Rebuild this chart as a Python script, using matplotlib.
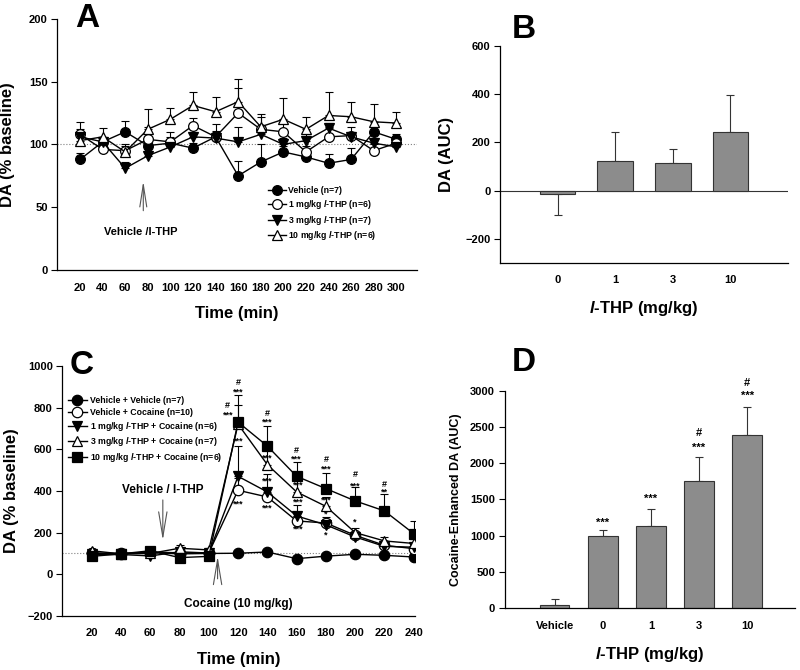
import numpy as np
import matplotlib
matplotlib.use("Agg")
import matplotlib.pyplot as plt
from matplotlib.lines import Line2D

plt.rcParams['font.family'] = ['Liberation Sans', 'DejaVu Sans']
plt.rcParams['font.weight'] = 'bold'
plt.rcParams['axes.labelweight'] = 'bold'
plt.rcParams['mathtext.fontset'] = 'custom'
plt.rcParams['mathtext.it'] = 'Liberation Sans:italic:bold'
plt.rcParams['mathtext.rm'] = 'Liberation Sans:bold'
plt.rcParams['mathtext.bf'] = 'Liberation Sans:bold'
plt.rcParams['axes.linewidth'] = 0.9

# ---- panel A data
time_a = [20, 40, 60, 80, 100, 120, 140, 160, 180, 200, 220, 240, 260, 280, 300]
veh_a = [88, 102, 110, 99, 101, 97, 106, 75, 86, 94, 90, 85, 88, 110, 104]
thp1_a = [108, 96, 95, 104, 102, 115, 106, 125, 112, 110, 94, 106, 107, 95, 101]
thp3_a = [106, 102, 81, 91, 98, 106, 105, 102, 108, 100, 103, 113, 106, 101, 98]
thp10_a = [103, 106, 94, 112, 120, 131, 126, 134, 114, 120, 112, 123, 122, 118, 117]
veh_a_err = [5, 4, 9, 4, 5, 4, 5, 12, 14, 5, 4, 7, 9, 5, 4]
thp1_a_err = [4, 5, 5, 10, 8, 6, 10, 20, 10, 7, 5, 8, 7, 5, 5]
thp3_a_err = [4, 3, 5, 5, 4, 6, 5, 12, 4, 5, 5, 4, 4, 4, 4]
thp10_a_err = [15, 7, 5, 16, 9, 11, 12, 18, 10, 17, 10, 19, 12, 14, 9]
labels_a = ["Vehicle (n=7)", r"1 mg/kg $\mathit{l}$-THP (n=6)",
            r"3 mg/kg $\mathit{l}$-THP (n=7)", r"10 mg/kg $\mathit{l}$-THP (n=6)"]

# ---- panel B data
doses_b = ["0", "1", "3", "10"]
auc_b = [-15, 121, 114, 244]
auc_b_err = [88, 120, 58, 150]

# ---- panel C data
time_c = [20, 40, 60, 80, 100, 120, 140, 160, 180, 200, 220, 240]
vehveh_c = [100, 101, 104, 98, 100, 101, 107, 75, 87, 96, 91, 83]
vehcoc_c = [103, 98, 107, 103, 103, 403, 371, 256, 246, 187, 139, 123]
thp1_c = [95, 95, 88, 108, 102, 470, 395, 280, 237, 179, 134, 130]
thp3_c = [113, 98, 100, 125, 117, 720, 526, 395, 326, 200, 160, 148]
thp10_c = [86, 98, 113, 80, 86, 730, 615, 470, 411, 352, 304, 195]
vehveh_c_err = [8, 8, 8, 8, 8, 8, 8, 8, 8, 8, 8, 8]
vehcoc_c_err = [10, 10, 10, 10, 10, 60, 40, 25, 30, 15, 15, 15]
thp1_c_err = [10, 10, 10, 10, 10, 144, 88, 51, 30, 15, 15, 15]
thp3_c_err = [10, 10, 10, 15, 10, 90, 70, 55, 45, 24, 20, 20]
thp10_c_err = [10, 10, 10, 10, 10, 128, 96, 69, 75, 67, 83, 61]
labels_c = ["Vehicle + Vehicle (n=7)", "Vehicle + Cocaine (n=10)",
            r"1 mg/kg $\mathit{l}$-THP + Cocaine (n=6)",
            r"3 mg/kg $\mathit{l}$-THP + Cocaine (n=7)",
            r"10 mg/kg $\mathit{l}$-THP + Cocaine (n=6)"]
# significance marks (time, value, text)
marks_c = [(120, 922, "#"), (120, 872, "***"), (113, 812, "#"), (113, 765, "***"),
           (120, 638, "***"), (120, 339, "***"),
           (140, 772, "#"), (140, 728, "***"), (140, 558, "***"), (140, 447, "***"), (140, 320, "***"),
           (160, 596, "#"), (160, 552, "***"), (161, 427, "***"), (161, 347, "***"), (161, 216, "***"),
           (180, 552, "#"), (180, 505, "***"), (180, 358, "***"), (180, 288, "*"), (180, 190, "*"),
           (200, 480, "#"), (200, 425, "***"), (200, 251, "*"),
           (220, 433, "#"), (220, 393, "**")]

# ---- panel D data
doses_d = ["Vehicle", "0", "1", "3", "10"]
auc_d = [41, 992, 1130, 1750, 2384]
auc_d_err = [83, 83, 244, 331, 391]
marks_d = [(1, 1185, "***"), (2, 1511, "***"), (3, 2214, "***"), (3, 2412, "#"),
           (4, 2931, "***"), (4, 3101, "#")]

fig = plt.figure(figsize=(8, 6.7), dpi=100)
axA = fig.add_axes([0.0718, 0.597, 0.449, 0.375])
axB = fig.add_axes([0.625, 0.6075, 0.36, 0.3245])
axC = fig.add_axes([0.078, 0.0806, 0.441, 0.3734])
axD = fig.add_axes([0.631, 0.092, 0.363, 0.325])

for ax in [axA, axB, axC, axD]:
    ax.spines['top'].set_visible(False)
    ax.spines['right'].set_visible(False)
    ax.tick_params(axis='y', direction='out', length=4, width=0.8, labelsize=8, pad=3)
    ax.tick_params(axis='x', length=0, labelsize=8, pad=9)


def series(ax, t, y, err, marker, fc, ms, label):
    zeros = np.zeros(len(err))
    ax.errorbar(t, y, yerr=[zeros, err], fmt='none', ecolor='black',
                elinewidth=0.8, capsize=3, capthick=0.8, zorder=2)
    ax.plot(t, y, '-', color='black', lw=1, marker=marker, mfc=fc, mec='black',
            mew=0.9, ms=ms, zorder=3)
    return Line2D([], [], color='black', lw=1, marker=marker, mfc=fc, mec='black',
                  mew=0.9, ms=ms, label=label)


# ---- A
handles = []
handles.append(series(axA, time_a, veh_a, veh_a_err, 'o', 'black', 7, labels_a[0]))
handles.append(series(axA, time_a, thp1_a, thp1_a_err, 'o', 'white', 7, labels_a[1]))
handles.append(series(axA, time_a, thp3_a, thp3_a_err, 'v', 'black', 7, labels_a[2]))
handles.append(series(axA, time_a, thp10_a, thp10_a_err, '^', 'white', 7, labels_a[3]))
axA.axhline(100, color='gray', ls=':', lw=0.8, zorder=1)
axA.set_xlim(0, 318)
axA.set_ylim(0, 200)
axA.set_xticks(time_a)
axA.set_yticks([0, 50, 100, 150, 200])
axA.set_xlabel("Time (min)", fontsize=12, labelpad=10)
axA.set_ylabel("DA (% baseline)", fontsize=12, labelpad=10)
axA.legend(handles=handles, loc='upper left', bbox_to_anchor=(0.572, 0.355), frameon=False,
           fontsize=6.3, handlelength=2.0, handletextpad=0.3, labelspacing=0.32,
           borderaxespad=0.2)
axA.annotate("", xy=(76, 73), xytext=(76, 45),
             arrowprops=dict(arrowstyle='->,head_length=1.6,head_width=0.25', color='#555555', lw=0.8))
axA.text(74, 30, "Vehicle /l-THP", fontsize=8, ha='center', va='center')
axA.text(0.049, 1.0, "A", transform=axA.transAxes, fontsize=24, fontweight='bold', va='center')

# ---- B
xb = np.arange(len(doses_b))
auc_b_arr = np.array(auc_b)
errb = np.array(auc_b_err)
lo = np.where(auc_b_arr < 0, errb, 0)
hi = np.where(auc_b_arr >= 0, errb, 0)
axB.bar(xb, auc_b, width=0.62, color='#8c8c8c', edgecolor='#333333', linewidth=0.8, zorder=2)
axB.errorbar(xb, auc_b, yerr=[lo, hi], fmt='none', ecolor='#333333', elinewidth=0.8,
             capsize=3, capthick=0.8, zorder=1)
axB.axhline(0, color='#333333', lw=0.8, zorder=1)
axB.set_xlim(-1, 4)
axB.set_ylim(-300, 600)
axB.set_yticks([-200, 0, 200, 400, 600])
axB.set_xticks(xb)
axB.set_xticklabels(doses_b)
axB.set_xlabel(r"$\mathit{l}$-THP (mg/kg)", fontsize=12, labelpad=10)
axB.set_ylabel("DA (AUC)", fontsize=12, labelpad=8)
axB.text(0.04, 1.075, "B", transform=axB.transAxes, fontsize=24, fontweight='bold', va='center')

# ---- C
handles = []
handles.append(series(axC, time_c, vehveh_c, vehveh_c_err, 'o', 'black', 7.5, labels_c[0]))
handles.append(series(axC, time_c, vehcoc_c, vehcoc_c_err, 'o', 'white', 7.5, labels_c[1]))
handles.append(series(axC, time_c, thp1_c, thp1_c_err, 'v', 'black', 7.5, labels_c[2]))
handles.append(series(axC, time_c, thp3_c, thp3_c_err, '^', 'white', 7.5, labels_c[3]))
handles.append(series(axC, time_c, thp10_c, thp10_c_err, 's', 'black', 7, labels_c[4]))
axC.axhline(100, color='gray', ls=':', lw=0.8, zorder=1)
axC.set_xlim(0, 241)
axC.set_ylim(-200, 1000)
axC.set_xticks(time_c)
axC.set_yticks(range(-200, 1001, 200))
axC.set_xlabel("Time (min)", fontsize=12, labelpad=10)
axC.set_ylabel("DA (% baseline)", fontsize=12, labelpad=6)
axC.legend(handles=handles, loc='upper left', bbox_to_anchor=(0.0, 0.9), frameon=False,
           fontsize=6.3, handlelength=2.2, handletextpad=0.3, labelspacing=0.32,
           borderaxespad=0.2)
for t, v, s in marks_c:
    axC.text(t, v, s, fontsize=6.5, ha='center', va='center', zorder=5)
axC.annotate("", xy=(68.6, 150), xytext=(68.6, 370),
             arrowprops=dict(arrowstyle='->,head_length=1.8,head_width=0.3', color='#555555', lw=0.8))
axC.text(68.6, 405, "Vehicle / l-THP", fontsize=8.5, ha='center', va='center')
axC.annotate("", xy=(106, 100), xytext=(106, -35),
             arrowprops=dict(arrowstyle='->,head_length=1.8,head_width=0.3', color='#555555', lw=0.8))
axC.text(120, -143, "Cocaine (10 mg/kg)", fontsize=8.5, ha='center', va='center')
axC.text(0.02, 1.0, "C", transform=axC.transAxes, fontsize=24, fontweight='bold', va='center')

# ---- D
xd = np.arange(len(doses_d))
axD.bar(xd, auc_d, width=0.61, color='#8c8c8c', edgecolor='#333333', linewidth=0.8, zorder=2)
axD.errorbar(xd, auc_d, yerr=[np.zeros(len(xd)), auc_d_err], fmt='none', ecolor='#333333',
             elinewidth=0.8, capsize=3, capthick=0.8, zorder=1)
axD.set_xlim(-1.04, 5)
axD.set_ylim(0, 3000)
axD.set_yticks(range(0, 3001, 500))
axD.set_xticks(xd)
axD.set_xticklabels(doses_d)
axD.set_xlabel(r"$\mathit{l}$-THP (mg/kg)", fontsize=12, labelpad=10)
axD.set_ylabel("Cocaine-Enhanced DA (AUC)", fontsize=9, labelpad=6)
for i, v, s in marks_d:
    axD.text(i, v, s, fontsize=8, ha='center', va='center', clip_on=False)
axD.text(0.024, 1.13, "D", transform=axD.transAxes, fontsize=24, fontweight='bold', va='center')

fig.savefig("out.png", dpi=100)
